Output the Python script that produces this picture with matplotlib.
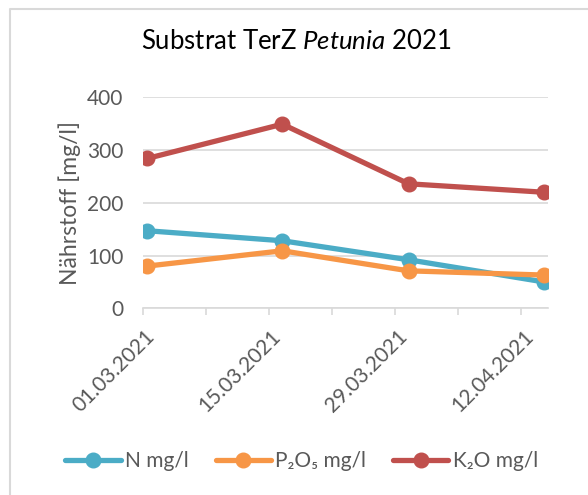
import matplotlib
matplotlib.use("Agg")
import matplotlib.pyplot as plt
import matplotlib.dates as mdates
from matplotlib.transforms import ScaledTranslation
import numpy as np

plt.rcParams['font.family'] = ['Lato', 'DejaVu Sans']
plt.rcParams['mathtext.fontset'] = 'custom'
plt.rcParams['mathtext.it'] = 'Lato:italic'
plt.rcParams['mathtext.rm'] = 'Lato'

# sampling dates and nutrient contents (mg/l)
dates = ["2021-03-01", "2021-03-16", "2021-03-30", "2021-04-14"]
n_vals = [147, 128, 92, 50]
p2o5_vals = [80, 109, 71, 63]
k2o_vals = [284, 349, 236, 220]
tick_dates = ["2021-03-01", "2021-03-15", "2021-03-29", "2021-04-12"]
x_range = ["2021-03-01", "2021-04-15"]

GRAY = "#595959"
GRID = "#d9d9d9"

fig = plt.figure(figsize=(5.88, 4.95), dpi=100)
ax = fig.add_axes([0.2427, 0.3772, 0.6896, 0.4263])

# excel date axis puts points in the middle of the day
x = mdates.datestr2num(dates) + 0.5
series = [
    (n_vals, "#4BACC6", "N mg/l"),
    (p2o5_vals, "#F79646", "P₂O₅ mg/l"),
    (k2o_vals, "#C0504D", "K₂O mg/l"),
]
for vals, col, lab in series:
    ax.plot(x, vals, color=col, lw=3.8, marker="o", ms=10.5, label=lab,
            solid_capstyle="round", solid_joinstyle="round")

x0, x1 = mdates.datestr2num(x_range)
ax.set_xlim(x0, x1)
ax.set_ylim(0, 400)
ax.set_yticks([0, 100, 200, 300, 400])
ax.yaxis.grid(True, color=GRID, lw=1.2)
ax.set_axisbelow(True)
for s in ["top", "right", "left"]:
    ax.spines[s].set_visible(False)
ax.spines["bottom"].set_color(GRID)
ax.spines["bottom"].set_linewidth(1.2)
ax.tick_params(axis="y", length=0, pad=14, labelsize=15, labelcolor=GRAY)

ax.set_xticks(mdates.datestr2num(tick_dates))
ax.set_xticklabels([d[8:10] + "." + d[5:7] + "." + d[0:4] for d in tick_dates])
ax.set_xticks(np.arange(x0, x1, 7), minor=True)
ax.tick_params(axis="x", which="both", direction="out", length=5, width=1.2,
               color=GRID, labelsize=15, labelcolor=GRAY, pad=10)
for lbl in ax.get_xticklabels():
    lbl.set_rotation(45)
    lbl.set_ha("right")
    lbl.set_va("center")
    lbl.set_rotation_mode("anchor")
    lbl.set_transform(lbl.get_transform() + ScaledTranslation(0.09, -0.04, fig.dpi_scale_trans))

ax.set_ylabel("Nährstoff [mg/l]", fontsize=16.5, color=GRAY, labelpad=4)

fig.text(0.504, 0.917, "Substrat TerZ $\\it{Petunia}$ 2021", ha="center", va="center",
         fontsize=18.5, color="black")

fig.legend(loc="center", bbox_to_anchor=(0.513, 0.069), ncol=3, frameon=False,
           fontsize=15, handlelength=2.65, columnspacing=1.3, handletextpad=0.2,
           labelcolor=GRAY)

# chart border
fig.add_artist(plt.Line2D([0.017, 0.017, 1.0], [0.0, 0.982, 0.982],
                          transform=fig.transFigure, color=GRID, lw=1.5))

fig.savefig("out.png", dpi=100)
